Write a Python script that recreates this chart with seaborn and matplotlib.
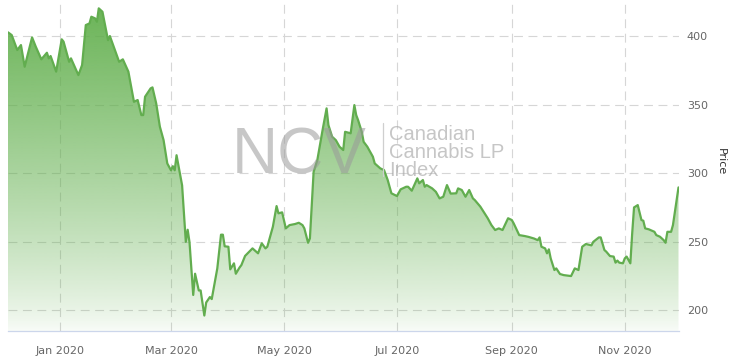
import numpy as np
import pandas as pd
import matplotlib
matplotlib.use("Agg")
import matplotlib.pyplot as plt
import matplotlib.dates as mdates
from matplotlib.lines import Line2D
from matplotlib.colors import to_rgb
import seaborn as sns

dates = [
    "2019-12-04", "2019-12-06", "2019-12-09", "2019-12-11", "2019-12-13", "2019-12-17", "2019-12-19",
    "2019-12-22", "2019-12-25", "2019-12-26", "2019-12-27", "2019-12-30",
    "2020-01-02", "2020-01-03", "2020-01-06", "2020-01-07", "2020-01-09", "2020-01-11", "2020-01-13",
    "2020-01-15", "2020-01-17", "2020-01-18", "2020-01-20", "2020-01-21", "2020-01-22", "2020-01-24",
    "2020-01-27", "2020-01-28",
    "2020-02-02", "2020-02-04", "2020-02-07", "2020-02-10", "2020-02-12", "2020-02-14", "2020-02-15",
    "2020-02-16", "2020-02-19", "2020-02-20", "2020-02-22", "2020-02-24", "2020-02-26", "2020-02-28",
    "2020-03-01", "2020-03-02", "2020-03-03", "2020-03-04", "2020-03-07", "2020-03-09", "2020-03-10",
    "2020-03-11", "2020-03-13", "2020-03-14", "2020-03-16", "2020-03-17", "2020-03-19", "2020-03-20",
    "2020-03-22", "2020-03-23", "2020-03-26", "2020-03-28", "2020-03-29", "2020-03-30",
    "2020-04-01", "2020-04-02", "2020-04-04", "2020-04-05", "2020-04-07", "2020-04-08", "2020-04-10",
    "2020-04-14", "2020-04-17", "2020-04-19", "2020-04-21", "2020-04-22", "2020-04-25", "2020-04-27",
    "2020-04-28", "2020-04-30",
    "2020-05-02", "2020-05-04", "2020-05-07", "2020-05-09", "2020-05-11", "2020-05-12", "2020-05-14",
    "2020-05-15", "2020-05-17", "2020-05-19", "2020-05-22", "2020-05-24", "2020-05-25", "2020-05-27",
    "2020-05-29", "2020-05-31",
    "2020-06-02", "2020-06-03", "2020-06-06", "2020-06-08", "2020-06-09", "2020-06-10", "2020-06-12",
    "2020-06-13", "2020-06-15", "2020-06-18", "2020-06-19", "2020-06-22", "2020-06-24", "2020-06-26",
    "2020-06-28",
    "2020-07-01", "2020-07-03", "2020-07-06", "2020-07-07", "2020-07-09", "2020-07-12", "2020-07-13",
    "2020-07-15", "2020-07-16", "2020-07-17", "2020-07-20", "2020-07-22", "2020-07-24", "2020-07-26",
    "2020-07-28", "2020-07-30",
    "2020-08-02", "2020-08-03", "2020-08-05", "2020-08-07", "2020-08-09", "2020-08-11", "2020-08-12",
    "2020-08-15", "2020-08-19", "2020-08-21", "2020-08-23", "2020-08-25", "2020-08-27", "2020-08-30",
    "2020-09-01", "2020-09-02", "2020-09-05", "2020-09-08", "2020-09-10", "2020-09-13", "2020-09-15",
    "2020-09-16", "2020-09-17", "2020-09-19", "2020-09-20", "2020-09-21", "2020-09-22", "2020-09-24",
    "2020-09-25", "2020-09-27", "2020-09-29",
    "2020-10-03", "2020-10-05", "2020-10-07", "2020-10-09", "2020-10-11", "2020-10-14", "2020-10-15",
    "2020-10-18", "2020-10-19", "2020-10-21", "2020-10-22", "2020-10-24", "2020-10-26", "2020-10-27",
    "2020-10-28", "2020-10-29", "2020-10-31",
    "2020-11-01", "2020-11-02", "2020-11-04", "2020-11-05", "2020-11-06", "2020-11-08", "2020-11-10",
    "2020-11-11", "2020-11-12", "2020-11-14", "2020-11-17", "2020-11-18", "2020-11-20", "2020-11-22",
    "2020-11-23", "2020-11-24", "2020-11-26", "2020-11-27", "2020-11-29", "2020-11-30",
]

prices = [
    402.7, 400.7, 389.8, 393.4, 377.6, 399.0, 392.2, 383.0, 387.8, 383.7, 385.4, 374.0,
    397.6, 395.9, 381.2, 383.7, 377.6, 371.5, 378.8, 408.0, 409.2, 414.1, 412.9, 410.4, 420.2, 417.7, 397.0, 400.0,
    381.2, 383.0, 374.0, 352.0, 353.3, 342.3, 342.3, 355.7, 361.8, 362.5, 350.9, 333.8, 324.0, 307.0,
    302.0, 305.0, 302.0, 313.0, 291.0, 249.8, 258.6, 249.5, 211.0, 226.5, 214.3, 214.3, 196.0, 205.5,
    209.5, 208.0, 230.4, 255.0, 255.0, 246.5,
    246.2, 229.7, 234.1, 226.5, 231.0, 232.8, 239.5, 245.0, 241.4, 248.7, 245.0, 246.2, 260.8, 275.9, 270.6, 271.3,
    259.6, 262.0, 262.8, 263.7, 262.0, 259.6, 249.1, 252.3, 300.9, 309.5, 332.6, 347.2, 335.0, 326.5, 324.0, 319.2,
    316.8, 330.1, 329.0, 349.6, 342.3, 338.7, 330.1, 322.8, 319.2, 311.9, 307.0, 303.4, 302.2, 294.9, 285.2,
    283.2, 288.1, 290.0, 290.0, 287.1, 296.1, 292.5, 294.9, 290.0, 291.2, 288.8, 286.3, 281.5, 282.7, 291.2, 285.0,
    285.2, 288.8, 287.6, 282.7, 287.6, 281.5, 280.3, 275.5, 267.0, 262.0, 258.4, 259.6, 258.4, 267.0,
    265.7, 263.3, 254.7, 254.0, 253.4, 252.2, 251.0, 253.0, 246.2, 245.0, 241.4, 244.3, 237.7, 229.2, 230.4,
    226.3, 225.5,
    224.8, 230.4, 229.2, 246.2, 248.2, 247.2, 249.8, 253.0, 253.0, 243.8, 242.6, 239.4, 239.0, 234.6, 236.1,
    234.6, 234.1,
    237.7, 239.0, 234.1, 256.0, 274.9, 276.6, 265.7, 265.2, 259.6, 258.9, 257.1, 254.7, 253.5, 251.0, 249.1,
    257.1, 257.1, 262.0, 280.3, 289.5,
]

x_tick_dates = ["2020-01-01", "2020-03-01", "2020-05-01", "2020-07-01", "2020-09-01", "2020-11-01"]
x_tick_labels = ["Jan 2020", "Mar 2020", "May 2020", "Jul 2020", "Sep 2020", "Nov 2020"]
y_ticks = [200, 250, 300, 350, 400]
y_range = (184.7, 426.3)

df = pd.DataFrame({"date": pd.to_datetime(dates), "price": prices})

sns.set_theme(style="white")
plt.rcParams["font.family"] = ["DejaVu Sans"]

W, H = 731, 361
fig = plt.figure(figsize=(W / 100, H / 100), dpi=100)
ax = fig.add_axes([8 / W, 30 / H, 670.5 / W, 331 / H])

line_color = "#62ad4f"
fill_rgb = to_rgb("#5fae4a")

# gradient fill under the curve
xnum = mdates.date2num(df["date"])
poly = ax.fill_between(df["date"], df["price"], y_range[0], color="none", lw=0)
t = np.linspace(0, 1, 256)
alpha = 0.04 + 0.88 * t ** 0.8
grad = np.zeros((256, 1, 4))
grad[:, 0, 0:3] = fill_rgb
grad[:, 0, 3] = alpha
im = ax.imshow(grad, extent=[xnum[0], xnum[-1], y_range[0], max(prices)],
               origin="lower", aspect="auto", zorder=2, interpolation="bilinear")
im.set_clip_path(poly.get_paths()[0], transform=ax.transData)

sns.lineplot(data=df, x="date", y="price", ax=ax, color=line_color, lw=1.6, zorder=3)

ax.set_xlim(xnum[0], xnum[-1])
ax.set_ylim(*y_range)
ax.set_aspect("auto")

# grid
ax.set_axisbelow(True)
ax.grid(True, axis="both", color="#d6d6d6", lw=0.8, linestyle=(0, (8, 5)))

ax.set_xticks(mdates.date2num(pd.to_datetime(x_tick_dates)))
ax.set_xticklabels(x_tick_labels)
ax.set_yticks(y_ticks)
ax.set_yticklabels([str(v) for v in y_ticks])
ax.yaxis.tick_right()
ax.tick_params(axis="x", colors="#ccd6eb", length=6, width=0.8, direction="out",
               labelcolor="#666666", labelsize=8, pad=5)
ax.tick_params(axis="y", length=0, labelcolor="#666666", labelsize=8, pad=6)
ax.set_xlabel("")
ax.set_ylabel("")

for s in ["top", "left", "right"]:
    ax.spines[s].set_visible(False)
ax.spines["bottom"].set_color("#ccd6eb")
ax.spines["bottom"].set_linewidth(0.9)

fig.text(721 / W, 1 - 162 / H, "Price", rotation=270, ha="center", va="center",
         color="#333333", fontsize=8)

# watermark
fig.text(232 / W, 1 - 173 / H, "NCV", family="Liberation Sans", fontsize=46,
         color="#9a9a9a", alpha=0.55, ha="left", va="baseline")
fig.add_artist(Line2D([383 / W, 383 / W], [1 - 123 / H, 1 - 176 / H],
                      transform=fig.transFigure, color="#cfcfcf", lw=0.9))
for i, txt in enumerate(["Canadian", "Cannabis LP", "Index"]):
    fig.text(389 / W, 1 - (140 + 18 * i) / H, txt, family="Liberation Sans", fontsize=14.5,
             color="#a8a8a8", alpha=0.65, ha="left", va="baseline")

fig.savefig("out.png", dpi=100)
